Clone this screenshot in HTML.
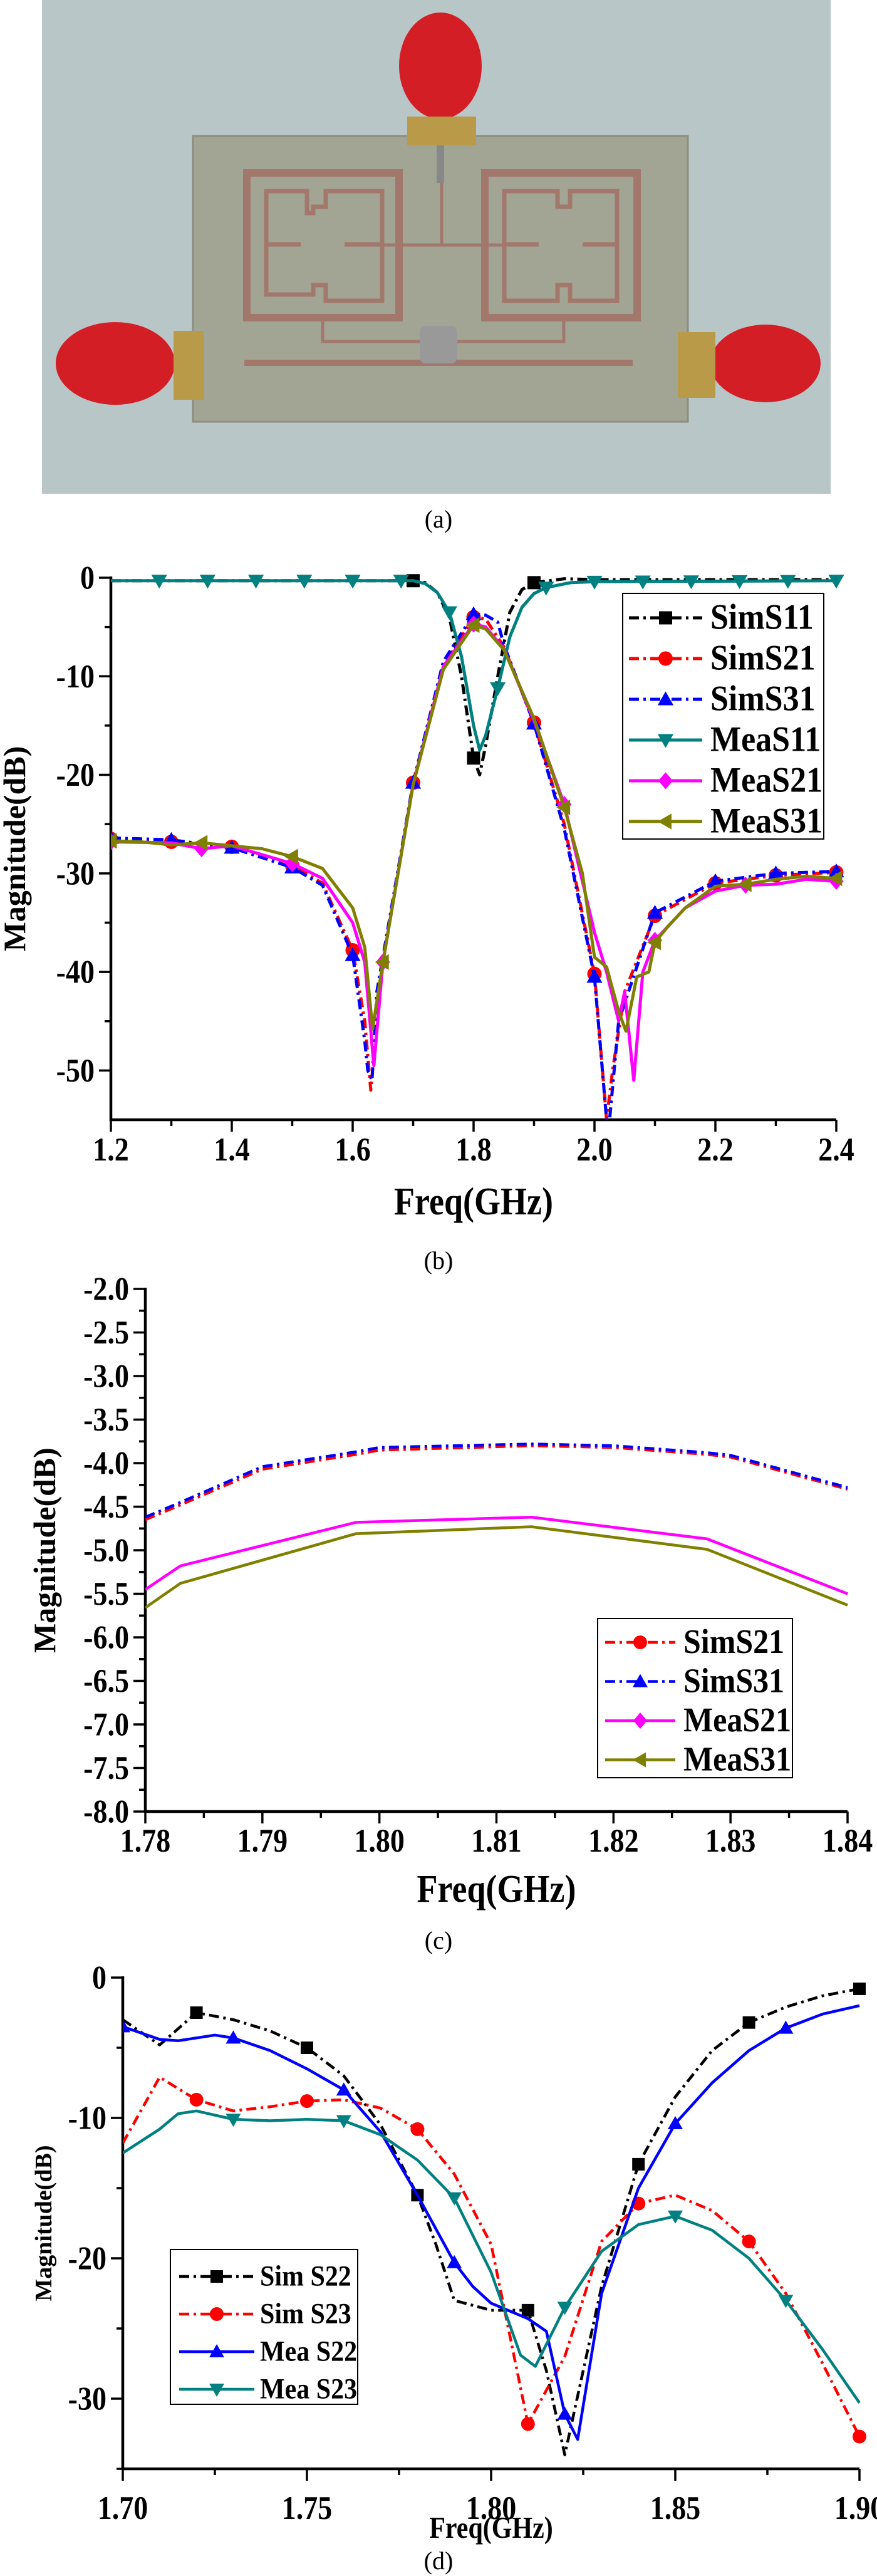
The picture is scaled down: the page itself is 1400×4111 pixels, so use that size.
<!DOCTYPE html>
<html><head><meta charset="utf-8"><style>
html,body{margin:0;padding:0;background:#fff;}
svg{display:block;}
text{font-family:"Liberation Serif","Times New Roman",serif;}
</style></head><body>
<svg id="page" width="1400" height="4111" viewBox="0 0 1400 4111" xmlns="http://www.w3.org/2000/svg" font-family="Liberation Serif, serif">
<g id="photo">
<rect x="67" y="0" width="1259" height="788" fill="#b9c6c8"/>
<rect x="308" y="217" width="790" height="456" fill="#a3a594" stroke="#8c8d80" stroke-width="3"/>
<g fill="none" stroke="#a2786c" stroke-width="12">
<path d="M394 276 H637 V507 H394 Z"/>
<path d="M774 276 H1017 V507 H774 Z"/>
</g>
<g fill="none" stroke="#a2786c" stroke-width="7">
<path d="M425 305 H490 V340 H500 V330 H520 V305 H610 V480 H520 V455 H500 V470 H425 Z"/>
<path d="M425 390 H480 M550 390 H610"/>
<path d="M805 305 H890 V330 H910 V305 H985 V480 H910 V455 H890 V480 H805 Z"/>
<path d="M930 390 H985 M805 390 H860"/>
</g>
<path d="M560 391 H850 M705 290 V391 M515 510 V545 H900 V510" stroke="#a2786c" stroke-width="5" fill="none"/>
<rect x="390" y="574" width="620" height="10" fill="#a2786c"/>
<rect x="697" y="232" width="12" height="60" fill="#888"/>
<rect x="670" y="520" width="60" height="60" fill="#999" rx="10"/>
<ellipse cx="703" cy="105" rx="66" ry="85" fill="#d41e25"/>
<rect x="650" y="186" width="110" height="46" fill="#b89a48"/>
<ellipse cx="184" cy="580" rx="95" ry="66" fill="#d41e25"/>
<rect x="277" y="528" width="48" height="110" fill="#b89a48"/>
<ellipse cx="1222" cy="580" rx="88" ry="62" fill="#d41e25"/>
<rect x="1082" y="530" width="60" height="105" fill="#b89a48"/>
</g>
<g id="chart-b"></g>
<g id="chart-c"></g>
<g id="chart-d"></g>
<text x="700" y="842" text-anchor="middle" font-size="40" font-family="Liberation Serif, serif">(a)</text>
<text x="700" y="2025" text-anchor="middle" font-size="40" font-family="Liberation Serif, serif">(b)</text>
<text x="700" y="3110" text-anchor="middle" font-size="40" font-family="Liberation Serif, serif">(c)</text>
<text x="700" y="4100" text-anchor="middle" font-size="40" font-family="Liberation Serif, serif">(d)</text>
</svg>
<script>
// ---------- Chart B data ----------
const bSimS11X = [1.2,1.3,1.4,1.5,1.6,1.7,1.72,1.74,1.76,1.78,1.8,1.81,1.82,1.84,1.86,1.88,1.9,1.95,2.0,2.2,2.4];
const bSimS11Y = [-0.3,-0.3,-0.3,-0.3,-0.3,-0.3,-0.5,-1.5,-4,-10,-18.3,-20,-17,-10,-3.5,-1.2,-0.5,-0.1,-0.2,-0.2,-0.2];
const bMeaS11X = [1.2,1.4,1.6,1.7,1.72,1.74,1.76,1.78,1.8,1.81,1.82,1.84,1.86,1.88,1.9,1.92,1.96,2.0,2.4];
const bMeaS11Y = [-0.3,-0.3,-0.3,-0.3,-0.6,-1.5,-3.5,-8,-15,-17.5,-16,-11.2,-6,-3,-1.6,-1,-0.5,-0.4,-0.3];
const bSimS21X = [1.2,1.3,1.4,1.5,1.55,1.6,1.62,1.63,1.64,1.65,1.7,1.75,1.8,1.82,1.85,1.9,1.95,2.0,2.02,2.03,2.05,2.1,2.2,2.3,2.4];
const bSimS21Y = [-26.5,-26.8,-27.3,-29.2,-31,-37.8,-45,-52,-45,-39,-20.8,-9,-4,-4.2,-7,-14.7,-25,-40.2,-55,-50,-42,-34.3,-31,-30.2,-29.9];
const bSimS31X = [1.2,1.3,1.4,1.5,1.55,1.6,1.62,1.625,1.632,1.64,1.65,1.7,1.75,1.8,1.82,1.84,1.85,1.9,1.95,2.0,2.02,2.025,2.04,2.1,2.2,2.3,2.4];
const bSimS31Y = [-26.4,-26.6,-27.4,-29.4,-31.2,-38.3,-47,-50,-51,-42,-38.5,-20.8,-8.5,-3.7,-3.8,-4.5,-6.8,-14.8,-25.5,-40.5,-55,-55,-45,-34,-30.8,-30,-29.8];
const bMeaS21X = [1.2,1.3,1.35,1.4,1.5,1.55,1.6,1.62,1.635,1.65,1.7,1.75,1.8,1.82,1.85,1.9,1.95,2.0,2.02,2.04,2.05,2.065,2.08,2.1,2.15,2.2,2.25,2.3,2.35,2.4];
const bMeaS21Y = [-26.8,-26.9,-27.5,-27.2,-29,-30.5,-35,-39,-49.5,-39,-21,-9,-4.7,-5,-7.2,-14.5,-23,-36,-40,-45,-42,-51,-40,-36.8,-33.5,-31.8,-31.2,-31.1,-30.6,-30.8];
const bMeaS31X = [1.2,1.25,1.3,1.35,1.4,1.45,1.5,1.55,1.6,1.62,1.633,1.65,1.7,1.75,1.8,1.82,1.85,1.9,1.95,1.98,2.0,2.02,2.04,2.052,2.07,2.09,2.1,2.12,2.15,2.2,2.25,2.3,2.35,2.4];
const bMeaS31Y = [-26.7,-26.8,-27.1,-26.9,-27.2,-27.5,-28.3,-29.5,-33.5,-37.5,-45.8,-39,-21,-9.3,-4.8,-5.2,-7.3,-14.3,-23.3,-30,-38.5,-39.5,-44,-46,-40.5,-40,-37,-35.5,-33.5,-31.3,-31.1,-30.6,-30.3,-30.5];
const bMarkS11 = [1.7,1.8,1.9];
const bMarkSim = [1.2,1.3,1.4,1.5,1.6,1.7,1.8,1.9,2.0,2.1,2.2,2.3,2.4];
const bMarkMeaS11 = [1.28,1.36,1.44,1.52,1.6,1.68,1.76,1.84,1.92,2.0,2.08,2.16,2.24,2.32,2.4];
const bMarkMea = [1.2,1.35,1.5,1.65,1.8,1.95,2.1,2.25,2.4];
const bXTicks = [1.2,1.4,1.6,1.8,2.0,2.2,2.4];
const bXTickLabels = ["1.2","1.4","1.6","1.8","2.0","2.2","2.4"];
const bYTicks = [0,-10,-20,-30,-40,-50];
const bYTickLabels = ["0","-10","-20","-30","-40","-50"];

// ---------- Chart C data ----------
const cSimX = [1.78,1.783,1.79,1.798,1.80,1.813,1.82,1.828,1.83,1.84];
const cSimS21Y = [-4.65,-4.48,-4.07,-3.9,-3.85,-3.8,-3.82,-3.9,-3.93,-4.3];
const cSimS31Y = [-4.62,-4.45,-4.04,-3.87,-3.82,-3.78,-3.8,-3.88,-3.91,-4.28];
const cMeaX = [1.78,1.783,1.798,1.813,1.828,1.84];
const cMeaS21Y = [-5.45,-5.18,-4.68,-4.62,-4.87,-5.5];
const cMeaS31Y = [-5.66,-5.38,-4.81,-4.73,-4.99,-5.63];
const cXTicks = [1.78,1.79,1.80,1.81,1.82,1.83,1.84];
const cXTickLabels = ["1.78","1.79","1.80","1.81","1.82","1.83","1.84"];
const cYTicks = [-2,-2.5,-3,-3.5,-4,-4.5,-5,-5.5,-6,-6.5,-7,-7.5,-8];
const cYTickLabels = ["-2.0","-2.5","-3.0","-3.5","-4.0","-4.5","-5.0","-5.5","-6.0","-6.5","-7.0","-7.5","-8.0"];

// ---------- Chart D data ----------
const dSimS22X = [1.70,1.71,1.72,1.73,1.74,1.75,1.76,1.77,1.78,1.785,1.79,1.80,1.81,1.815,1.82,1.83,1.84,1.85,1.86,1.87,1.88,1.89,1.90];
const dSimS22Y = [-3,-4.8,-2.5,-3,-3.8,-5,-7,-10.5,-15.5,-19,-23,-23.7,-23.7,-28,-34,-22,-13.3,-8.5,-5.2,-3.2,-2.1,-1.3,-0.8];
const dSimS23X = [1.70,1.71,1.72,1.73,1.74,1.75,1.76,1.77,1.78,1.79,1.80,1.81,1.82,1.83,1.84,1.85,1.86,1.87,1.88,1.89,1.90];
const dSimS23Y = [-11.8,-7.1,-8.7,-9.5,-9.2,-8.8,-8.7,-9.3,-10.8,-14,-19,-31.8,-27,-18.8,-16.1,-15.5,-16.6,-18.8,-22.5,-27.5,-32.7];
const dMeaS22X = [1.70,1.71,1.715,1.72,1.725,1.73,1.74,1.75,1.76,1.77,1.78,1.79,1.795,1.80,1.81,1.815,1.82,1.8235,1.83,1.84,1.85,1.86,1.87,1.88,1.89,1.90];
const dMeaS22Y = [-3.5,-4.4,-4.5,-4.3,-4.1,-4.3,-5.2,-6.5,-8,-11,-15.5,-20.3,-22,-23.2,-24.3,-25.2,-31.1,-32.9,-22.5,-15,-10.4,-7.5,-5.2,-3.6,-2.6,-2];
const dMeaS23X = [1.70,1.71,1.715,1.72,1.73,1.74,1.75,1.76,1.77,1.78,1.79,1.80,1.808,1.812,1.82,1.83,1.84,1.85,1.86,1.87,1.88,1.89,1.90];
const dMeaS23Y = [-12.5,-10.8,-9.7,-9.5,-10.1,-10.2,-10.1,-10.2,-11.2,-13,-15.7,-21,-26.9,-27.7,-23.5,-19.5,-17.6,-17,-18,-20,-23,-26.5,-30.3];
const dMarkSim = [1.72,1.75,1.78,1.81,1.84,1.87,1.90];
const dMarkMea = [1.70,1.73,1.76,1.79,1.82,1.85,1.88];
const dXTicks = [1.70,1.75,1.80,1.85,1.90];
const dXTickLabels = ["1.70","1.75","1.80","1.85","1.90"];
const dYTicks = [0,-10,-20,-30];
const dYTickLabels = ["0","-10","-20","-30"];

const NS = "http://www.w3.org/2000/svg";
function mk(parent, tag, attrs) {
  const e = document.createElementNS(NS, tag);
  for (const k in attrs) e.setAttribute(k, attrs[k]);
  parent.appendChild(e);
  return e;
}
function interp(xs, ys, x) {
  if (x <= xs[0]) return ys[0];
  for (let i = 1; i < xs.length; i++) {
    if (x <= xs[i]) { const t = (x - xs[i-1]) / (xs[i] - xs[i-1]); return ys[i-1] + t * (ys[i] - ys[i-1]); }
  }
  return ys[ys.length - 1];
}
function marker(g, shape, cx, cy, s, color) {
  let m;
  if (shape === "square") m = mk(g, "rect", {x: cx - s/2, y: cy - s/2, width: s, height: s, fill: color});
  else if (shape === "circle") m = mk(g, "circle", {cx: cx, cy: cy, r: s/2 + 1, fill: color});
  else if (shape === "up") m = mk(g, "polygon", {points: `${cx},${cy - s*0.6} ${cx - s*0.6},${cy + s*0.45} ${cx + s*0.6},${cy + s*0.45}`, fill: color});
  else if (shape === "down") m = mk(g, "polygon", {points: `${cx},${cy + s*0.6} ${cx - s*0.6},${cy - s*0.45} ${cx + s*0.6},${cy - s*0.45}`, fill: color});
  else if (shape === "diamond") m = mk(g, "polygon", {points: `${cx},${cy - s*0.65} ${cx + s*0.55},${cy} ${cx},${cy + s*0.65} ${cx - s*0.55},${cy}`, fill: color});
  else if (shape === "left") m = mk(g, "polygon", {points: `${cx - s*0.6},${cy} ${cx + s*0.45},${cy - s*0.6} ${cx + s*0.45},${cy + s*0.6}`, fill: color});
  
  
  return m;
}
function stxt(g, x, y, str, size, anchor, sy, rot) {
  const t = mk(g, "text", {"font-size": size, "font-weight": "bold", "text-anchor": anchor,
    "font-family": "Liberation Serif, Times New Roman, serif",
    transform: `translate(${x},${y})` + (rot ? ` rotate(${rot})` : "") + ` scale(1,${sy})`});
  t.textContent = str;
  return t;
}
const DASHDOT = "16,7,4,7";

function drawChart(cfg) {
  const g = document.getElementById(cfg.id);
  const X = v => cfg.x0 + (v - cfg.xmin) / (cfg.xmax - cfg.xmin) * (cfg.x1 - cfg.x0);
  const Y = v => cfg.y0 + (cfg.ymax - v) / (cfg.ymax - cfg.ymin) * (cfg.y1 - cfg.y0);
  const axes = mk(g, "g", {});
  
  
  cfg.xTicks.forEach((v, i) => {
    mk(axes, "line", {x1: X(v), x2: X(v), y1: cfg.y1, y2: cfg.y1 + 19, stroke: "#000", "stroke-width": 3.5});
    const t = stxt(axes, X(v), cfg.xLabY, cfg.xTickLabels[i], cfg.tickFont, "middle", 1.15);
    
    
  });
  cfg.xMinor.forEach(v => mk(axes, "line", {x1: X(v), x2: X(v), y1: cfg.y1, y2: cfg.y1 + 10, stroke: "#000", "stroke-width": 3.5}));
  cfg.yTicks.forEach((v, i) => {
    mk(axes, "line", {x1: cfg.x0 - 19, x2: cfg.x0, y1: Y(v), y2: Y(v), stroke: "#000", "stroke-width": 3.5});
    const t = stxt(axes, cfg.x0 - 26, Y(v) + cfg.tickFont * 0.38, cfg.yTickLabels[i], cfg.tickFont, "end", 1.15);
    
    
  });
  cfg.yMinor.forEach(v => mk(axes, "line", {x1: cfg.x0 - 10, x2: cfg.x0, y1: Y(v), y2: Y(v), stroke: "#000", "stroke-width": 3.5}));
  mk(axes, "line", {x1: cfg.x0, x2: cfg.x0, y1: cfg.y0 - 2, y2: cfg.y1 + 2, stroke: "#000", "stroke-width": 4.5});
  mk(axes, "line", {x1: cfg.x0 - 2, x2: cfg.x1, y1: cfg.y1, y2: cfg.y1, stroke: "#000", "stroke-width": 4.5});
  const xt = stxt(g, (cfg.x0 + cfg.x1) / 2, cfg.xTitleY, "Freq(GHz)", cfg.titleFont, "middle", 1.15);
  
  
  const yt = stxt(g, cfg.yTitleX, (cfg.y0 + cfg.y1) / 2, "Magnitude(dB)", cfg.yTitleFont, "middle", 1.0, -90);
  
  
  const cp = mk(g, "clipPath", {id: cfg.id + "-clip"});
  mk(cp, "rect", {x: cfg.x0, y: cfg.y0 - 30, width: cfg.x1 - cfg.x0 + 30, height: cfg.y1 - cfg.y0 + 30});
  const plot = mk(g, "g", {"clip-path": `url(#${cfg.id}-clip)`});
  
  
  cfg.series.forEach(s => {
    const sg = mk(plot, "g", {});
    
    
    const pts = s.xs.map((x, i) => `${X(x).toFixed(1)},${Y(s.ys[i]).toFixed(1)}`).join(" ");
    const pl = mk(sg, "polyline", {points: pts, fill: "none", stroke: s.color, "stroke-width": cfg.lw, "stroke-linejoin": "round"});
    if (s.dash) pl.setAttribute("stroke-dasharray", DASHDOT);
    
    
    (s.marks || []).forEach(mx => marker(sg, s.shape, X(mx), Y(interp(s.xs, s.ys, mx)), cfg.ms, s.color));
  });
  const L = cfg.legend;
  const lg = mk(g, "g", {});
  
  
  mk(lg, "rect", {x: L.x, y: L.y, width: L.w, height: L.h, fill: "#fff", stroke: "#000", "stroke-width": 2});
  L.entries.forEach((si, k) => {
    const s = cfg.series[si];
    const yy = L.firstY + k * L.dy;
    const eg = mk(lg, "g", {});
    
    
    const ln = mk(eg, "line", {x1: L.lx0, x2: L.lx1, y1: yy, y2: yy, stroke: s.color, "stroke-width": cfg.lw});
    if (s.dash) ln.setAttribute("stroke-dasharray", DASHDOT);
    marker(eg, s.shape, (L.lx0 + L.lx1) / 2, yy, cfg.ms, s.color);
    stxt(eg, L.tx, yy + L.font * 0.34, s.name, L.font, "start", 1.1);
  });
}

drawChart({
  id: "chart-b", x0: 177, x1: 1335, y0: 922, y1: 1787, xmin: 1.2, xmax: 2.4, ymin: -55, ymax: 0,
  xTicks: bXTicks, xTickLabels: bXTickLabels, xMinor: [1.3,1.5,1.7,1.9,2.1,2.3],
  yTicks: bYTicks, yTickLabels: bYTickLabels, yMinor: [-5,-15,-25,-35,-45],
  tickFont: 46, xLabY: 1852, xTitleY: 1938, titleFont: 54, yTitleX: 40, yTitleFont: 50, lw: 5, ms: 21,
  series: [
    {name: "SimS11", xs: bSimS11X, ys: bSimS11Y, color: "#000", dash: true, shape: "square", marks: bMarkS11},
    {name: "SimS21", xs: bSimS21X, ys: bSimS21Y, color: "#ff0000", dash: true, shape: "circle", marks: bMarkSim},
    {name: "SimS31", xs: bSimS31X, ys: bSimS31Y, color: "#0000ff", dash: true, shape: "up", marks: bMarkSim},
    {name: "MeaS11", xs: bMeaS11X, ys: bMeaS11Y, color: "#008080", dash: false, shape: "down", marks: bMarkMeaS11},
    {name: "MeaS21", xs: bMeaS21X, ys: bMeaS21Y, color: "#ff00ff", dash: false, shape: "diamond", marks: bMarkMea},
    {name: "MeaS31", xs: bMeaS31X, ys: bMeaS31Y, color: "#808000", dash: false, shape: "left", marks: bMarkMea}
  ],
  legend: {x: 994, y: 947, w: 321, h: 392, firstY: 986, dy: 65, lx0: 1004, lx1: 1121, tx: 1134, font: 52, entries: [0,1,2,3,4,5]}
});

drawChart({
  id: "chart-c", x0: 232, x1: 1353, y0: 2057, y1: 2891, xmin: 1.78, xmax: 1.84, ymin: -8, ymax: -2,
  xTicks: cXTicks, xTickLabels: cXTickLabels, xMinor: [1.785,1.795,1.805,1.815,1.825,1.835],
  yTicks: cYTicks, yTickLabels: cYTickLabels, yMinor: [-2.25,-2.75,-3.25,-3.75,-4.25,-4.75,-5.25,-5.75,-6.25,-6.75,-7.25,-7.75],
  tickFont: 46, xLabY: 2955, xTitleY: 3035, titleFont: 54, yTitleX: 88, yTitleFont: 50, lw: 4.5, ms: 20,
  series: [
    {name: "SimS21", xs: cSimX, ys: cSimS21Y, color: "#ff0000", dash: true, shape: "circle", marks: []},
    {name: "SimS31", xs: cSimX, ys: cSimS31Y, color: "#0000ff", dash: true, shape: "up", marks: []},
    {name: "MeaS21", xs: cMeaX, ys: cMeaS21Y, color: "#ff00ff", dash: false, shape: "diamond", marks: []},
    {name: "MeaS31", xs: cMeaX, ys: cMeaS31Y, color: "#808000", dash: false, shape: "left", marks: []}
  ],
  legend: {x: 954, y: 2583, w: 311, h: 254, firstY: 2621, dy: 62.5, lx0: 966, lx1: 1078, tx: 1091, font: 50, entries: [0,1,2,3]}
});

drawChart({
  id: "chart-d", x0: 196, x1: 1372, y0: 3156, y1: 3940, xmin: 1.70, xmax: 1.90, ymin: -35, ymax: 0,
  xTicks: dXTicks, xTickLabels: dXTickLabels, xMinor: [1.725,1.775,1.825,1.875],
  yTicks: dYTicks, yTickLabels: dYTickLabels, yMinor: [-5,-15,-25,-35],
  tickFont: 46, xLabY: 4020, xTitleY: 4050, titleFont: 42, yTitleX: 82, yTitleFont: 38, lw: 4.5, ms: 20,
  series: [
    {name: "Sim S22", xs: dSimS22X, ys: dSimS22Y, color: "#000", dash: true, shape: "square", marks: dMarkSim},
    {name: "Sim S23", xs: dSimS23X, ys: dSimS23Y, color: "#ff0000", dash: true, shape: "circle", marks: dMarkSim},
    {name: "Mea S22", xs: dMeaS22X, ys: dMeaS22Y, color: "#0000ff", dash: false, shape: "up", marks: dMarkMea},
    {name: "Mea S23", xs: dMeaS23X, ys: dMeaS23Y, color: "#008080", dash: false, shape: "down", marks: dMarkMea.slice(1)}
  ],
  legend: {x: 272, y: 3590, w: 299, h: 247, firstY: 3633, dy: 60, lx0: 286, lx1: 406, tx: 415, font: 42, entries: [0,1,2,3]}
});
</script>
</body></html>
